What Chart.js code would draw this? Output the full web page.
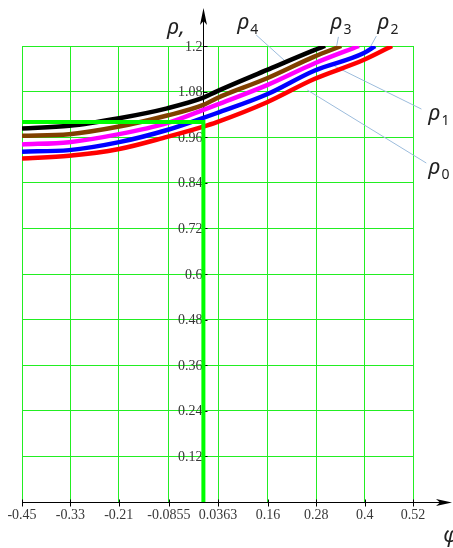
<!DOCTYPE html>
<html>
<head>
<meta charset="utf-8">
<script src="https://cdn.jsdelivr.net/npm/chart.js@4.4.1/dist/chart.umd.min.js"></script>
<style>
  body { margin: 0; background: #fff; }
  #wrap { width: 453px; height: 548px; }
</style>
</head>
<body>
<div id="wrap"><canvas id="my-chart" width="453" height="548"></canvas></div>
<script>
'use strict';

// ******* DATA *******
let phiVals = [-0.45, -0.333, -0.209, -0.09, 0, 0.032, 0.158, 0.275, 0.397];
let rho0 = [0.904, 0.911, 0.929, 0.961, 0.988, 0.999, 1.052, 1.113, 1.163];
let rho1 = [0.922, 0.926, 0.947, 0.979, 1.011, 1.023, 1.073, 1.135, 1.181];
let rho2 = [0.941, 0.947, 0.968, 0.997, 1.032, 1.045, 1.097, 1.154, null];
let rho3 = [0.964, 0.968, 0.988, 1.017, 1.045, 1.062, 1.115, 1.172, null];
let rho4 = [0.983, 0.990, 1.010, 1.036, 1.064, 1.080, 1.137, 1.189, null];
// phi where each curve runs out of the top of the plot (rho = 1.2)
let phiTop = [0.468, 0.426, 0.386, 0.342, 0.302];

let curveNames = ['0', '1', '2', '3', '4'];
let curveColors = ['#ff0000', '#0000ff', '#ff00ff', '#804000', '#000000'];

// green bounding line: rho = 1 up to phi = 0, then down
let boundPhi = [-0.45, 0, 0];
let boundRho = [1.0, 1.0, 0];

let xTicks = [-0.45, -0.33, -0.21, -0.0855, 0.0363, 0.16, 0.28, 0.4, 0.52];
let xTickLabels = ['-0.45', '-0.33', '-0.21', '-0.0855', '0.0363', '0.16', '0.28', '0.4', '0.52'];
let yTicks = [0, 0.12, 0.24, 0.36, 0.48, 0.6, 0.72, 0.84, 0.96, 1.08, 1.2];
let yTickLabels = ['', '0.12', '0.24', '0.36', '0.48', '0.6', '0.72', '0.84', '0.96', '1.08', '1.2'];

// label anchors (phi, rho) and leader lines from label to curve
let labelPos = [[0.558, 0.863], [0.558, 1.004], [0.4313, 1.246], [0.3147, 1.246], [0.0838, 1.246]];
let leaderFrom = [[0.553, 0.892], [0.541, 1.034], [0.429, 1.226], [0.335, 1.224], [0.131, 1.229]];
let leaderTo = [[0.258, 1.084], [0.325, 1.147], [0.414, 1.197], [0.330, 1.197], [0.200, 1.163]];

let canvasElem = document.getElementById('my-chart').getContext('2d');

// ****** HELPERS ******
function curvePoints(rho, end) {
  let pts = [];
  for (let i = 0; i < phiVals.length; i++) {
    if (rho[i] !== null) {
      pts.push({ x: phiVals[i], y: rho[i] });
    }
  }
  pts.push({ x: end, y: 1.2 });
  return pts;
}

function drawRho(ctx, x, y, sub) {
  ctx.fillStyle = '#222';
  ctx.textAlign = 'left';
  ctx.textBaseline = 'alphabetic';
  ctx.font = 'italic 22px "Noto Sans"';
  ctx.fillText('ρ', x, y);
  let w = ctx.measureText('ρ').width;
  ctx.font = '14px "Noto Sans"';
  ctx.fillText(sub, x + w + 1, y + 5);
}

// axes, ticks, labels and leader lines drawn under the curves
let axisPlugin = {
  id: 'axisPlugin',
  beforeDatasetsDraw(chart) {
    let ctx = chart.ctx;
    let xs = chart.scales.x;
    let ys = chart.scales.y;
    let x0 = Math.round(xs.getPixelForValue(0)) + 0.5;
    let y0 = Math.round(ys.getPixelForValue(0)) + 0.5;
    let left = xs.getPixelForValue(-0.45);

    ctx.save();
    // leader lines
    ctx.strokeStyle = '#9cbcdc';
    ctx.lineWidth = 1;
    for (let i = 0; i < leaderFrom.length; i++) {
      ctx.beginPath();
      ctx.moveTo(xs.getPixelForValue(leaderFrom[i][0]), ys.getPixelForValue(leaderFrom[i][1]));
      ctx.lineTo(xs.getPixelForValue(leaderTo[i][0]), ys.getPixelForValue(leaderTo[i][1]));
      ctx.stroke();
    }

    // y tick labels next to the vertical axis
    ctx.fillStyle = '#383838';
    ctx.font = '14px "Liberation Serif"';
    ctx.textAlign = 'right';
    ctx.textBaseline = 'middle';
    for (let i = 0; i < yTicks.length; i++) {
      ctx.fillText(yTickLabels[i], x0 - 1, ys.getPixelForValue(yTicks[i]) + 1);
    }
    // x tick labels
    ctx.textAlign = 'center';
    ctx.textBaseline = 'top';
    for (let i = 0; i < xTicks.length; i++) {
      ctx.fillText(xTickLabels[i], xs.getPixelForValue(xTicks[i]), y0 + 6);
    }

    // axis lines
    ctx.strokeStyle = '#000';
    ctx.fillStyle = '#000';
    ctx.beginPath();
    ctx.moveTo(x0, y0);
    ctx.lineTo(x0, 16);
    ctx.moveTo(left, y0);
    ctx.lineTo(444, y0);
    ctx.stroke();
    // tick marks
    ctx.beginPath();
    for (let i = 1; i < yTicks.length; i++) {
      let y = Math.round(ys.getPixelForValue(yTicks[i])) + 0.5;
      ctx.moveTo(x0, y);
      ctx.lineTo(x0 + 4, y);
    }
    for (let i = 0; i < xTicks.length; i++) {
      let x = Math.round(xs.getPixelForValue(xTicks[i])) + 0.5;
      ctx.moveTo(x, y0 - 3);
      ctx.lineTo(x, y0 + 4);
    }
    ctx.stroke();
    // arrow heads
    ctx.beginPath();
    ctx.moveTo(x0, 8);
    ctx.lineTo(x0 - 3.5, 25);
    ctx.lineTo(x0, 21);
    ctx.lineTo(x0 + 3.5, 25);
    ctx.closePath();
    ctx.fill();
    ctx.beginPath();
    ctx.moveTo(452, y0);
    ctx.lineTo(436, y0 - 3.5);
    ctx.lineTo(440, y0);
    ctx.lineTo(436, y0 + 3.5);
    ctx.closePath();
    ctx.fill();
    ctx.restore();
  },
  afterDraw(chart) {
    let ctx = chart.ctx;
    let xs = chart.scales.x;
    let ys = chart.scales.y;
    ctx.save();
    for (let i = 0; i < labelPos.length; i++) {
      drawRho(ctx, xs.getPixelForValue(labelPos[i][0]), ys.getPixelForValue(labelPos[i][1]), curveNames[i]);
    }
    // axis names
    ctx.fillStyle = '#222';
    ctx.textAlign = 'left';
    ctx.font = 'italic 22px "Noto Sans"';
    ctx.fillText('ρ,', xs.getPixelForValue(-0.09), ys.getPixelForValue(1.232));
    ctx.fillText('φ', xs.getPixelForValue(0.595), ys.getPixelForValue(-0.105));
    ctx.restore();
  }
};

// ******** CHART *******
let datasets = [{
  data: boundPhi.map((p, i) => ({ x: p, y: boundRho[i] })),
  borderColor: '#00ff00',
  borderWidth: 4,
  pointRadius: 0,
  tension: 0,
  clip: 0
}];

let allRho = [rho0, rho1, rho2, rho3, rho4];
for (let i = 0; i < allRho.length; i++) {
  datasets.push({
    label: 'rho' + curveNames[i],
    data: curvePoints(allRho[i], phiTop[i]),
    borderColor: curveColors[i],
    borderWidth: 4.5,
    pointRadius: 0,
    cubicInterpolationMode: 'monotone',
    clip: 0
  });
}

let myChartObj = {
  type: 'line',
  data: { datasets: datasets },
  plugins: [axisPlugin],
  options: {
    responsive: false,
    animation: false,
    events: [],
    layout: { padding: { left: 22, right: 40, top: 46, bottom: 46 } },
    plugins: { legend: { display: false }, tooltip: { enabled: false } },
    scales: {
      x: {
        type: 'linear',
        min: -0.45,
        max: 0.52,
        afterBuildTicks(scale) { scale.ticks = xTicks.map(v => ({ value: v })); },
        afterFit(scale) { scale.height = 0; },
        ticks: { display: false },
        border: { display: false },
        grid: { color: '#22ee22', lineWidth: 1, drawTicks: false }
      },
      y: {
        type: 'linear',
        min: 0,
        max: 1.2,
        afterBuildTicks(scale) { scale.ticks = yTicks.map(v => ({ value: v })); },
        afterFit(scale) { scale.width = 0; },
        ticks: { display: false },
        border: { display: false },
        grid: { color: '#22ee22', lineWidth: 1, drawTicks: false }
      }
    }
  }
};

new Chart(canvasElem, myChartObj);
</script>
</body>
</html>
